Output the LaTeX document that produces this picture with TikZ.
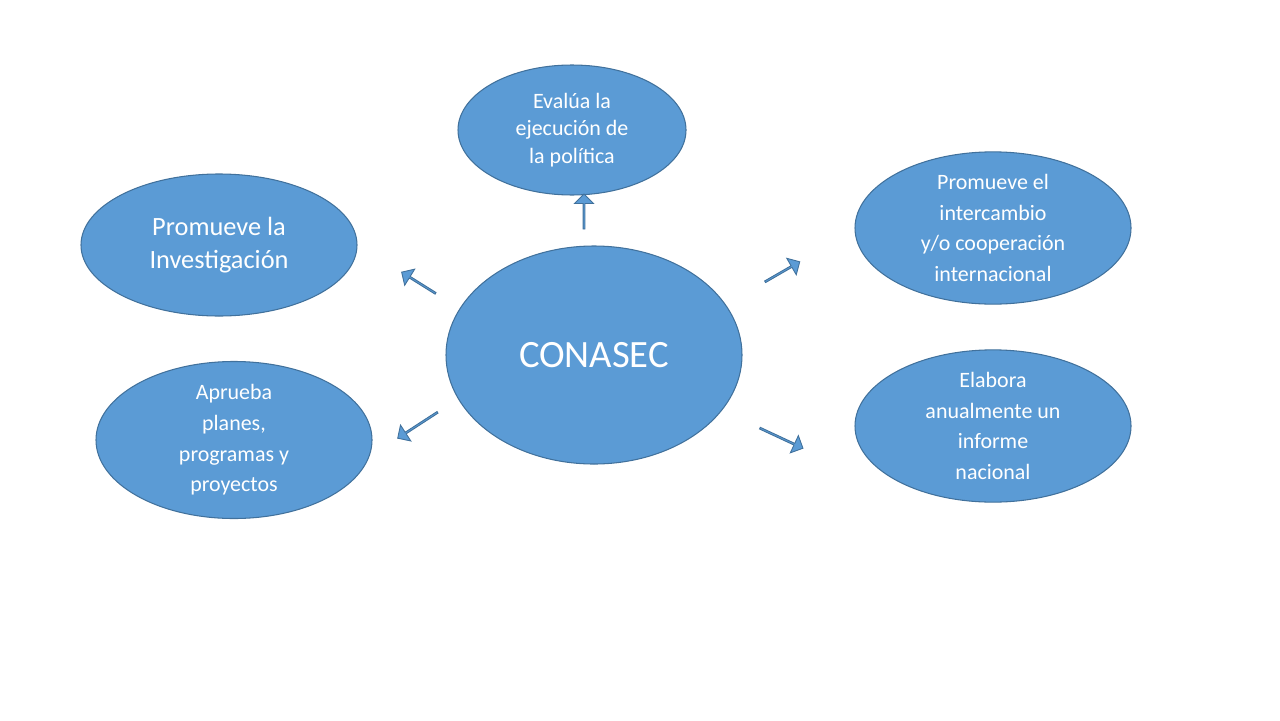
\documentclass[tikz,border=0pt]{standalone}
\usepackage{fontspec}
\setmainfont{Carlito}
\usetikzlibrary{shapes.arrows,shapes.geometric}
\definecolor{fillb}{HTML}{5B9BD5}
\definecolor{edgeb}{HTML}{41719C}
\tikzset{
  ell/.style={ellipse, fill=fillb, draw=edgeb, line width=0.6pt, text=white, align=center, inner sep=0pt},
  barrow/.style={single arrow, fill=fillb, draw=edgeb, line width=0.5pt, minimum width=0.38cm, single arrow head extend=0.08cm, inner sep=0pt, minimum height=0.8cm}
}
\begin{document}
\begin{tikzpicture}[x=0.02cm,y=-0.02cm]
\useasboundingbox (0,0) rectangle (1280,720);
\node[ell, minimum width=228*0.02cm, minimum height=130*0.02cm, font=\fontsize{12.5}{15.5}\selectfont] (top) at (572,130) {Evalúa la\\ejecución de\\la política};
\node[ell, minimum width=276*0.02cm, minimum height=142*0.02cm, font=\fontsize{15}{19}\selectfont] (lt) at (219,245) {Promueve la\\Investigación};
\node[ell, minimum width=296*0.02cm, minimum height=218*0.02cm, font=\fontsize{22}{26}\selectfont] (c) at (594,355) {CONASEC};
\node[ell, minimum width=276*0.02cm, minimum height=142*0.02cm, font=\fontsize{12.5}{17.5}\selectfont] (lb) at (234,440) {Aprueba\\planes,\\programas y\\proyectos};
\node[ell, minimum width=276*0.02cm, minimum height=142*0.02cm, font=\fontsize{12.5}{17.5}\selectfont] (rt) at (993,228) {Promueve el\\intercambio\\y/o cooperación\\internacional};
\node[ell, minimum width=276*0.02cm, minimum height=142*0.02cm, font=\fontsize{12.5}{17.5}\selectfont] (rb) at (993,426) {Elabora\\anualmente un\\informe\\nacional};
\node[barrow, rotate=90, minimum height=0.7cm] (a1) at (584,212) {};
\node[barrow, rotate=148] (a2) at (419,283) {};
\node[barrow, rotate=30] (a3) at (782,272) {};
\node[barrow, rotate=213, minimum height=0.95cm] (a4) at (418,425) {};
\node[barrow, rotate=-25, minimum height=0.95cm] (a5) at (781,438) {};
\end{tikzpicture}
\end{document}
